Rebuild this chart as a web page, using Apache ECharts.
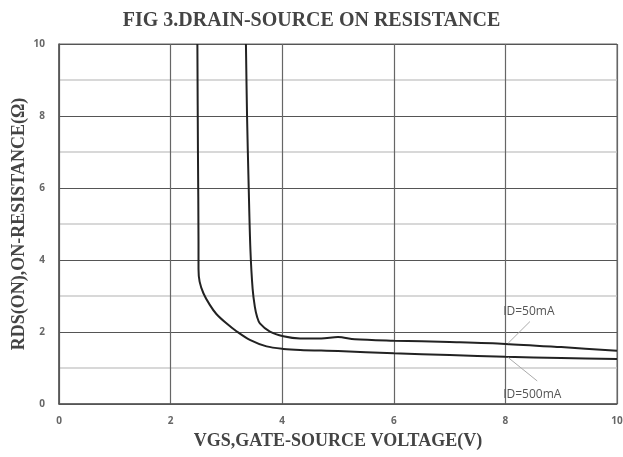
<!DOCTYPE html>
<html>
<head>
<meta charset="utf-8">
<script src="https://cdn.jsdelivr.net/npm/echarts@6/dist/echarts.min.js"></script>
<style>
  html, body { margin: 0; padding: 0; background: #fff; }
  #chart { width: 623px; height: 457px; }
</style>
</head>
<body>
<div id="chart"></div>
<script>
// curve points: [VGS (V), RDS(on) (ohm)]
const id500mA = [
  [2.48, 10], [2.49, 7], [2.50, 4.5], [2.50, 3.75], [2.52, 3.4], [2.59, 3.07],
  [2.70, 2.76], [2.82, 2.50], [3.0, 2.24], [3.18, 2.02], [3.42, 1.78], [3.72, 1.60],
  [4.02, 1.53], [4.32, 1.50], [5, 1.47], [6, 1.41], [7, 1.36], [8, 1.31], [9, 1.28], [10, 1.25]
]
const id50mA = [
  [3.35, 10], [3.37, 8], [3.40, 6], [3.43, 4.3], [3.47, 3.2], [3.51, 2.7],
  [3.55, 2.42], [3.6, 2.24], [3.78, 2.01], [4.02, 1.88], [4.32, 1.82], [4.7, 1.82],
  [5.0, 1.86], [5.3, 1.80], [6, 1.76], [7, 1.72], [8, 1.67], [9, 1.58], [10, 1.48]
]
const labels = ['ID=50mA', 'ID=500mA']
// [label anchor, leader start, leader end on curve]
const notes = [
  { text: labels[0], at: [7.96, 2.56], from: [8.44, 2.29], to: [8.05, 1.69] },
  { text: labels[1], at: [7.96, 0.25], from: [8.57, 0.64], to: [8.05, 1.29] }
]

const chart = echarts.init(document.getElementById('chart'))

const noteSeries = notes.map(n => ({
  type: 'line',
  data: [],
  silent: true,
  markLine: {
    symbol: 'none',
    silent: true,
    label: { show: false },
    lineStyle: { color: '#aaa', width: 1, type: 'solid' },
    data: [[{ coord: n.from }, { coord: n.to }]]
  },
  markPoint: {
    symbol: 'circle',
    symbolSize: 0,
    silent: true,
    label: {
      show: true,
      position: 'right',
      distance: 0,
      formatter: n.text,
      color: '#555',
      fontFamily: 'Open Sans',
      fontSize: 12
    },
    data: [{ coord: n.at }]
  }
}))

const serifName = {
  fontFamily: 'Liberation Serif',
  fontWeight: 'bold',
  fontSize: 18,
  color: '#444'
}

chart.setOption({
  animation: false,
  title: {
    text: 'FIG 3.DRAIN-SOURCE ON RESISTANCE',
    left: 'center',
    top: 6,
    textStyle: {
      fontFamily: 'Liberation Serif',
      fontWeight: 'bold',
      fontSize: 20,
      color: '#444'
    }
  },
  grid: {
    left: 59,
    right: 6,
    top: 44,
    bottom: 53,
    containLabel: false,
    outerBoundsMode: 'none',
    show: true,
    borderColor: '#666',
    borderWidth: 1
  },
  xAxis: {
    type: 'value',
    min: 0,
    max: 10,
    interval: 2,
    name: 'VGS,GATE-SOURCE VOLTAGE(V)',
    nameLocation: 'middle',
    nameGap: 28,
    nameMoveOverlap: false,
    nameTextStyle: serifName,
    axisLine: { show: true, lineStyle: { color: '#555', width: 1.5 } },
    axisTick: { show: false },
    axisLabel: { color: '#666', fontSize: 10, fontWeight: 'bold', fontFamily: 'Open Sans', margin: 12 },
    splitLine: { show: true, lineStyle: { color: '#666', width: 1.2 } }
  },
  yAxis: {
    type: 'value',
    min: 0,
    max: 10,
    interval: 2,
    name: 'RDS(ON),ON-RESISTANCE(Ω)',
    nameLocation: 'middle',
    nameGap: 31,
    nameMoveOverlap: false,
    nameTextStyle: serifName,
    axisLine: { show: true, lineStyle: { color: '#555', width: 1.5 } },
    axisTick: { show: false },
    minorTick: { show: false, splitNumber: 2 },
    axisLabel: { color: '#666', fontSize: 10, fontWeight: 'bold', fontFamily: 'Open Sans', margin: 14 },
    splitLine: { show: true, lineStyle: { color: '#555', width: 1.2 } },
    minorSplitLine: { show: true, lineStyle: { color: '#ccc', width: 1.5 } }
  },
  series: [
    {
      name: labels[1],
      type: 'line',
      data: id500mA,
      smooth: 0.3,
      symbol: 'none',
      lineStyle: { color: '#222', width: 2 }
    },
    {
      name: labels[0],
      type: 'line',
      data: id50mA,
      smooth: 0.3,
      symbol: 'none',
      lineStyle: { color: '#222', width: 2 }
    }
  ].concat(noteSeries)
})
</script>
</body>
</html>
